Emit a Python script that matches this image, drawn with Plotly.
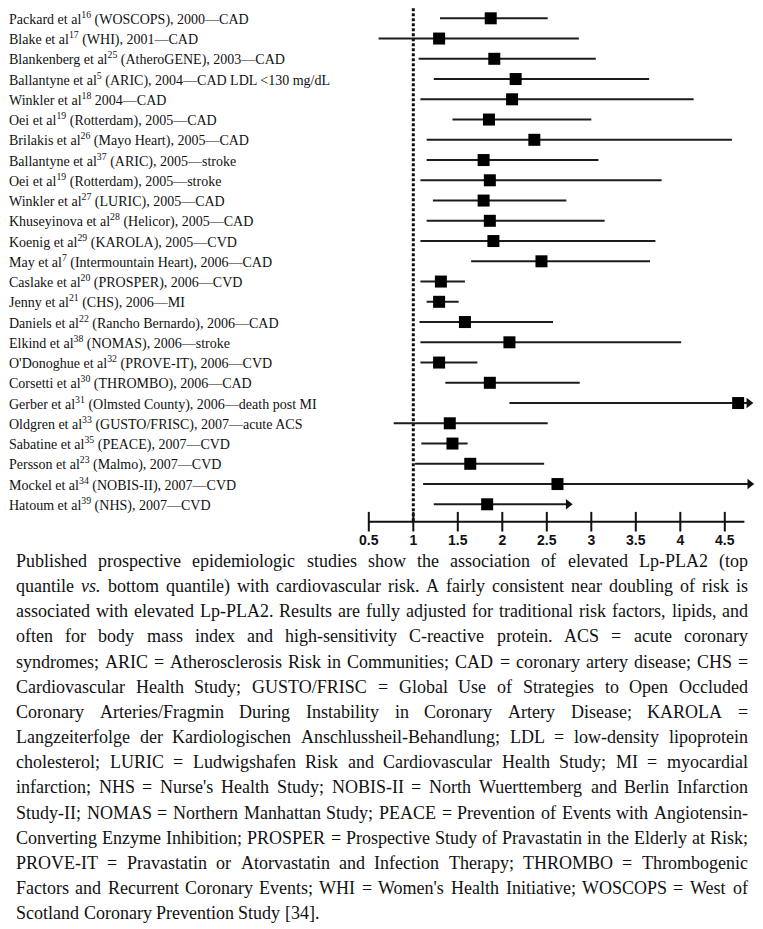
import plotly.graph_objects as go
import re

# ---------------- data ----------------
studies = [
    "Packard et al<sup>16</sup> (WOSCOPS), 2000\u2014CAD",
    "Blake et al<sup>17</sup> (WHI), 2001\u2014CAD",
    "Blankenberg et al<sup>25</sup> (AtheroGENE), 2003\u2014CAD",
    "Ballantyne et al<sup>5</sup> (ARIC), 2004\u2014CAD LDL <130 mg/dL",
    "Winkler et al<sup>18</sup> 2004\u2014CAD",
    "Oei et al<sup>19</sup> (Rotterdam), 2005\u2014CAD",
    "Brilakis et al<sup>26</sup> (Mayo Heart), 2005\u2014CAD",
    "Ballantyne et al<sup>37</sup> (ARIC), 2005\u2014stroke",
    "Oei et al<sup>19</sup> (Rotterdam), 2005\u2014stroke",
    "Winkler et al<sup>27</sup> (LURIC), 2005\u2014CAD",
    "Khuseyinova et al<sup>28</sup> (Helicor), 2005\u2014CAD",
    "Koenig et al<sup>29</sup> (KAROLA), 2005\u2014CVD",
    "May et al<sup>7</sup> (Intermountain Heart), 2006\u2014CAD",
    "Caslake et al<sup>20</sup> (PROSPER), 2006\u2014CVD",
    "Jenny et al<sup>21</sup> (CHS), 2006\u2014MI",
    "Daniels et al<sup>22</sup> (Rancho Bernardo), 2006\u2014CAD",
    "Elkind et al<sup>38</sup> (NOMAS), 2006\u2014stroke",
    "O'Donoghue et al<sup>32</sup> (PROVE-IT), 2006\u2014CVD",
    "Corsetti et al<sup>30</sup> (THROMBO), 2006\u2014CAD",
    "Gerber et al<sup>31</sup> (Olmsted County), 2006\u2014death post MI",
    "Oldgren et al<sup>33</sup> (GUSTO/FRISC), 2007\u2014acute ACS",
    "Sabatine et al<sup>35</sup> (PEACE), 2007\u2014CVD",
    "Persson et al<sup>23</sup> (Malmo), 2007\u2014CVD",
    "Mockel et al<sup>34</sup> (NOBIS-II), 2007\u2014CVD",
    "Hatoum et al<sup>39</sup> (NHS), 2007\u2014CVD",
]
estimate = [1.87, 1.29, 1.91, 2.15, 2.11, 1.85, 2.36, 1.79, 1.86, 1.79, 1.86, 1.90, 2.44,
            1.31, 1.29, 1.58, 2.08, 1.29, 1.86, 4.65, 1.41, 1.44, 1.64, 2.62, 1.83]
lower = [1.30, 0.61, 1.06, 1.23, 1.08, 1.44, 1.15, 1.15, 1.08, 1.22, 1.15, 1.08, 1.65,
         1.08, 1.15, 1.07, 1.08, 1.08, 1.36, 2.08, 0.78, 1.09, 1.02, 1.11, 1.23]
upper = [2.51, 2.86, 3.05, 3.65, 4.15, 3.00, 4.58, 3.08, 3.79, 2.72, 3.15, 3.72, 3.66,
         1.58, 1.51, 2.57, 4.01, 1.72, 2.87, 4.77, 2.51, 1.61, 2.47, 4.78, 2.74]
open_ended = [False] * 19 + [True, False, False, False, True, True]

tick_values = [0.5, 1, 1.5, 2, 2.5, 3, 3.5, 4, 4.5]
tick_labels = ["0.5", "1", "1.5", "2", "2.5", "3", "3.5", "4", "4.5"]
axis_end = 4.72
reference_value = 1

caption_lines = [
    "Published prospective epidemiologic studies show the association of elevated Lp-PLA2 (top",
    "quantile <i>vs.</i> bottom quantile) with cardiovascular risk. A fairly consistent near doubling of risk is",
    "associated with elevated Lp-PLA2. Results are fully adjusted for traditional risk factors, lipids, and",
    "often for body mass index and high-sensitivity C-reactive protein. ACS = acute coronary",
    "syndromes; ARIC = Atherosclerosis Risk in Communities; CAD = coronary artery disease; CHS =",
    "Cardiovascular Health Study; GUSTO/FRISC = Global Use of Strategies to Open Occluded",
    "Coronary Arteries/Fragmin During Instability in Coronary Artery Disease; KAROLA =",
    "Langzeiterfolge der Kardiologischen Anschlussheil-Behandlung; LDL = low-density lipoprotein",
    "cholesterol; LURIC = Ludwigshafen Risk and Cardiovascular Health Study; MI = myocardial",
    "infarction; NHS = Nurse's Health Study; NOBIS-II = North Wuerttemberg and Berlin Infarction",
    "Study-II; NOMAS = Northern Manhattan Study; PEACE = Prevention of Events with Angiotensin-",
    "Converting Enzyme Inhibition; PROSPER = Prospective Study of Pravastatin in the Elderly at Risk;",
    "PROVE-IT = Pravastatin or Atorvastatin and Infection Therapy; THROMBO = Thrombogenic",
    "Factors and Recurrent Coronary Events; WHI = Women's Health Initiative; WOSCOPS = West of",
    "Scotland Coronary Prevention Study [34].",
]

# ---------------- layout geometry ----------------
W, H = 763, 929
row0_px, row_step = 18.3, 20.25
x1_px, unit_px = 413.3, 89.0
plot_bottom_px = 528
axis_row = (521.7 - row0_px) / row_step
x_range = [1 - x1_px / unit_px, 1 + (W - x1_px) / unit_px]
y_range = [(plot_bottom_px - row0_px) / row_step, (0 - row0_px) / row_step]

SERIF = "Liberation Serif"
ink = "#111111"
n = len(studies)
rows = list(range(n))

fig = go.Figure()

# dotted reference line
fig.add_trace(go.Scatter(x=[reference_value, reference_value], y=[-0.5, axis_row], mode="lines",
                         line=dict(color=ink, width=3, dash="3px,2px"), hoverinfo="skip"))

# confidence interval lines
cx, cy = [], []
for i in rows:
    cx += [lower[i], upper[i], None]
    cy += [i, i, None]
fig.add_trace(go.Scatter(x=cx, y=cy, mode="lines", line=dict(color="#1c1c1c", width=2),
                         hoverinfo="skip"))

# arrow heads for open-ended intervals
ax_ = [upper[i] for i in rows if open_ended[i]]
ay_ = [i for i in rows if open_ended[i]]
fig.add_trace(go.Scatter(x=ax_, y=ay_, mode="markers", cliponaxis=False,
                         marker=dict(symbol="triangle-right", size=9, color=ink, line=dict(width=0))))

# point estimates
fig.add_trace(go.Scatter(x=estimate, y=rows, mode="markers", cliponaxis=False,
                         marker=dict(symbol="square", size=12, color="#000000", line=dict(width=0))))

# axis line and crossing ticks
fig.add_trace(go.Scatter(x=[tick_values[0], axis_end], y=[axis_row, axis_row], mode="lines",
                         line=dict(color=ink, width=2), hoverinfo="skip"))
fig.add_trace(go.Scatter(x=tick_values, y=[axis_row] * len(tick_values), mode="markers",
                         cliponaxis=False,
                         marker=dict(symbol="line-ns", size=14, line=dict(color=ink, width=2))))

annotations = []
# study labels
for i in rows:
    annotations.append(dict(x=9 / W, xref="paper", y=i, yref="y", text=studies[i],
                            showarrow=False, xanchor="left", yanchor="middle",
                            font=dict(family=SERIF, size=14, color=ink),
                            borderpad=0, borderwidth=0))

# caption (justified, word by word)
WID = {' ': 250, '!': 333, '"': 408, "'": 180, '(': 333, ')': 333, ',': 250, '-': 333, '.': 250,
       '/': 278, ':': 278, ';': 278, '=': 564, '[': 333, ']': 333,
       'A': 722, 'B': 667, 'C': 667, 'D': 722, 'E': 611, 'F': 556, 'G': 722, 'H': 722, 'I': 333,
       'J': 389, 'K': 722, 'L': 611, 'M': 889, 'N': 722, 'O': 722, 'P': 556, 'Q': 722, 'R': 667,
       'S': 556, 'T': 611, 'U': 722, 'V': 722, 'W': 944, 'X': 722, 'Y': 722, 'Z': 611,
       'a': 444, 'b': 500, 'c': 444, 'd': 500, 'e': 444, 'f': 333, 'g': 500, 'h': 500, 'i': 278,
       'j': 278, 'k': 500, 'l': 278, 'm': 778, 'n': 500, 'o': 500, 'p': 500, 'q': 500, 'r': 333,
       's': 389, 't': 278, 'u': 500, 'v': 500, 'w': 722, 'x': 500, 'y': 500, 'z': 444}
for d in "0123456789":
    WID[d] = 500

cap_size = 18
cap_left, cap_right = 16, 748
cap_top, cap_step = 561, 25.15


def text_w(s):
    s = re.sub(r"<[^>]+>", "", s)
    return sum(WID.get(ch, 500) for ch in s) * cap_size / 1000.0


for li, line in enumerate(caption_lines):
    ypx = cap_top + li * cap_step
    words = line.split(" ")
    last = li == len(caption_lines) - 1
    if last:
        gap = WID[' '] * cap_size / 1000.0
    else:
        total = sum(text_w(w) for w in words)
        gap = (cap_right - cap_left - total) / (len(words) - 1)
    xpx = cap_left
    for w in words:
        annotations.append(dict(x=xpx / W, xref="paper", y=1 - ypx / H, yref="paper", text=w,
                                showarrow=False, xanchor="left", yanchor="middle",
                                font=dict(family=SERIF, size=cap_size, color=ink),
                                borderpad=0, borderwidth=0))
        xpx += text_w(w) + gap

fig.update_layout(
    width=W, height=H, autosize=False,
    margin=dict(l=0, r=0, t=0, b=0),
    paper_bgcolor="white", plot_bgcolor="white",
    showlegend=False,
    annotations=annotations,
    xaxis=dict(domain=[0, 1], range=x_range, showgrid=False, zeroline=False, showline=False,
               ticks="", tickmode="array", tickvals=tick_values, ticktext=tick_labels,
               tickfont=dict(family="Liberation Sans", size=14, color=ink, weight="bold"),
               ticklabelstandoff=2, fixedrange=True),
    yaxis=dict(domain=[1 - plot_bottom_px / H, 1], range=y_range, visible=False,
               showgrid=False, zeroline=False, fixedrange=True),
)

fig.write_html("out.html", post_script="document.body.style.margin='0';",
               config={"displayModeBar": False})
